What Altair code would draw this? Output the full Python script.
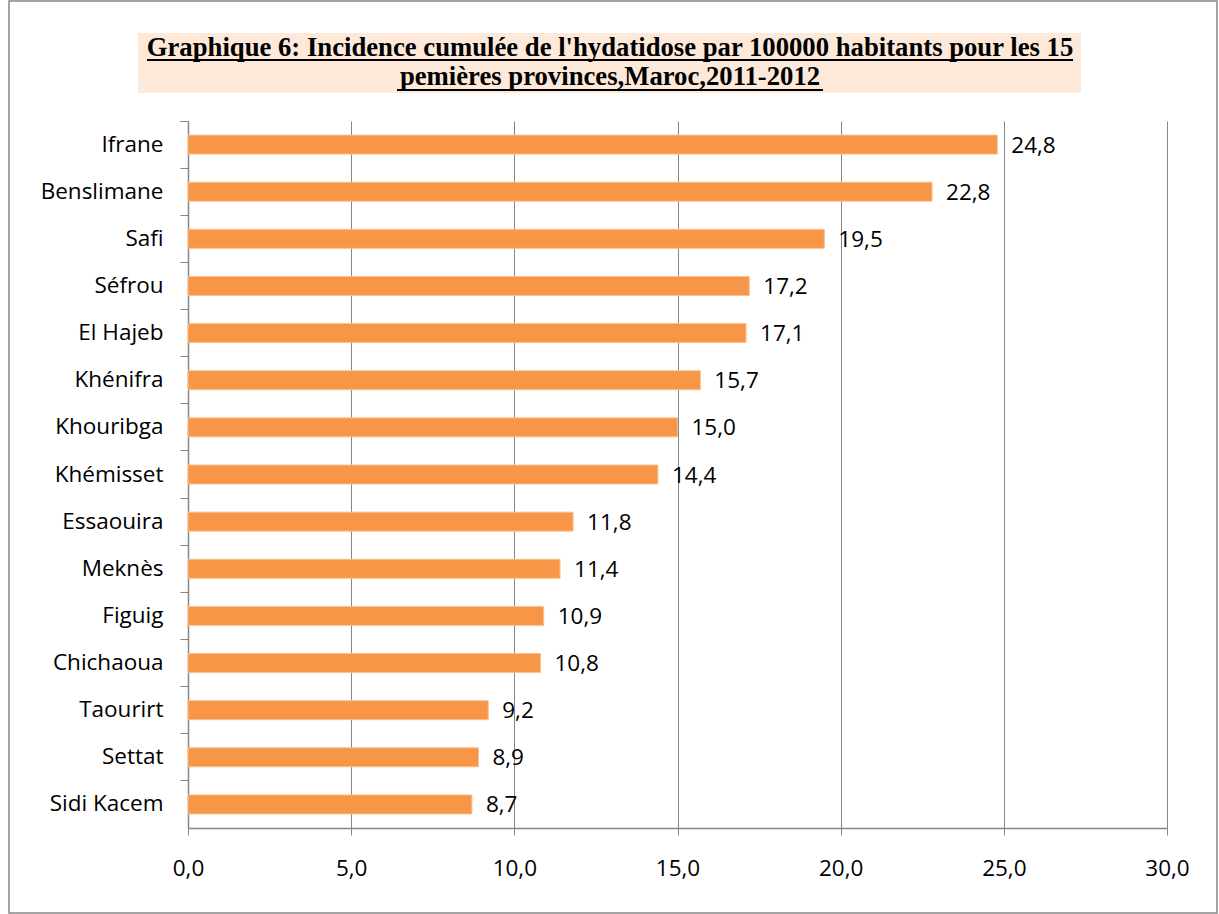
import altair as alt
import pandas as pd

provinces = ["Ifrane", "Benslimane", "Safi", "Séfrou", "El Hajeb", "Khénifra", "Khouribga",
             "Khémisset", "Essaouira", "Meknès", "Figuig", "Chichaoua", "Taourirt", "Settat", "Sidi Kacem"]
incidence = [24.8, 22.8, 19.5, 17.2, 17.1, 15.7, 15.0, 14.4, 11.8, 11.4, 10.9, 10.8, 9.2, 8.9, 8.7]
x_ticks = [0, 5, 10, 15, 20, 25, 30]
title_line1 = "Graphique 6: Incidence cumulée de l'hydatidose par 100000 habitants pour les 15"
title_line2 = "pemières provinces,Maroc,2011-2012"

df = pd.DataFrame({"province": provinces, "value": incidence})
df["label"] = [f"{v:.1f}".replace(".", ",") for v in incidence]
one = pd.DataFrame({"a": [0]})

W, H = 979, 707
GRAY = "#868686"
FONT = "Open Sans"
FS = 22.5

yenc = alt.Y("province:N", sort=provinces,
             scale=alt.Scale(paddingInner=0, paddingOuter=0),
             axis=alt.Axis(title=None, bandPosition=0, tickExtra=True, tickSize=8,
                           tickColor=GRAY, domainColor=GRAY, domainWidth=1.5,
                           labelFont=FONT, labelFontSize=FS, labelColor="black",
                           labelPadding=17, grid=False))
xenc = alt.X("value:Q", scale=alt.Scale(domain=[0, 30], nice=False),
             axis=alt.Axis(title=None, values=x_ticks, tickSize=7, tickColor=GRAY,
                           domainColor=GRAY, domainWidth=1.5, grid=True, gridColor=GRAY,
                           gridWidth=1, labelFont=FONT, labelFontSize=FS, labelColor="black",
                           labelPadding=22, labelFlush=False, labelOverlap=False,
                           labelExpr="replace(format(datum.value, '.1f'), '.', ',')"))

bars = alt.Chart(df).mark_bar(size=19, color="#F79646", stroke="#FAC090", strokeWidth=1).encode(
    x=xenc, y=yenc)
labels = alt.Chart(df).mark_text(align="left", baseline="middle", dx=14, dy=1, font=FONT,
                                 fontSize=FS, color="black").encode(
    x="value:Q", y=alt.Y("province:N", sort=provinces), text="label:N")

frame = alt.Chart(one).mark_rect(fill=None, stroke=GRAY, strokeWidth=1.5).encode(
    x=alt.value(-179), x2=alt.value(1029), y=alt.value(-120), y2=alt.value(792))
title_box = alt.Chart(one).mark_rect(fill="#FDE9D9").encode(
    x=alt.value(-50), x2=alt.value(893), y=alt.value(-88), y2=alt.value(-28))
t1 = alt.Chart(one).mark_text(font="Liberation Serif", fontWeight="bold", fontSize=26.7,
                              baseline="alphabetic", align="center", color="black").encode(
    x=alt.value(422), y=alt.value(-65), text=alt.value(title_line1))
t2 = alt.Chart(one).mark_text(font="Liberation Serif", fontWeight="bold", fontSize=26.7,
                              baseline="alphabetic", align="center", color="black").encode(
    x=alt.value(422), y=alt.value(-36), text=alt.value(title_line2))
u1 = alt.Chart(one).mark_rule(color="black", strokeWidth=2).encode(
    x=alt.value(-41), x2=alt.value(885), y=alt.value(-61))
u2 = alt.Chart(one).mark_rule(color="black", strokeWidth=2).encode(
    x=alt.value(209), x2=alt.value(635), y=alt.value(-31))

chart = alt.layer(frame, title_box, t1, t2, u1, u2, bars, labels).properties(
    width=W, height=H,
    autosize=alt.AutoSizeParams(type="none"),
    padding={"left": 188, "top": 121, "right": 52, "bottom": 86},
    background="white",
).configure_view(stroke=None)

chart.save("out.html", embed_options={"renderer": "svg", "actions": False})
